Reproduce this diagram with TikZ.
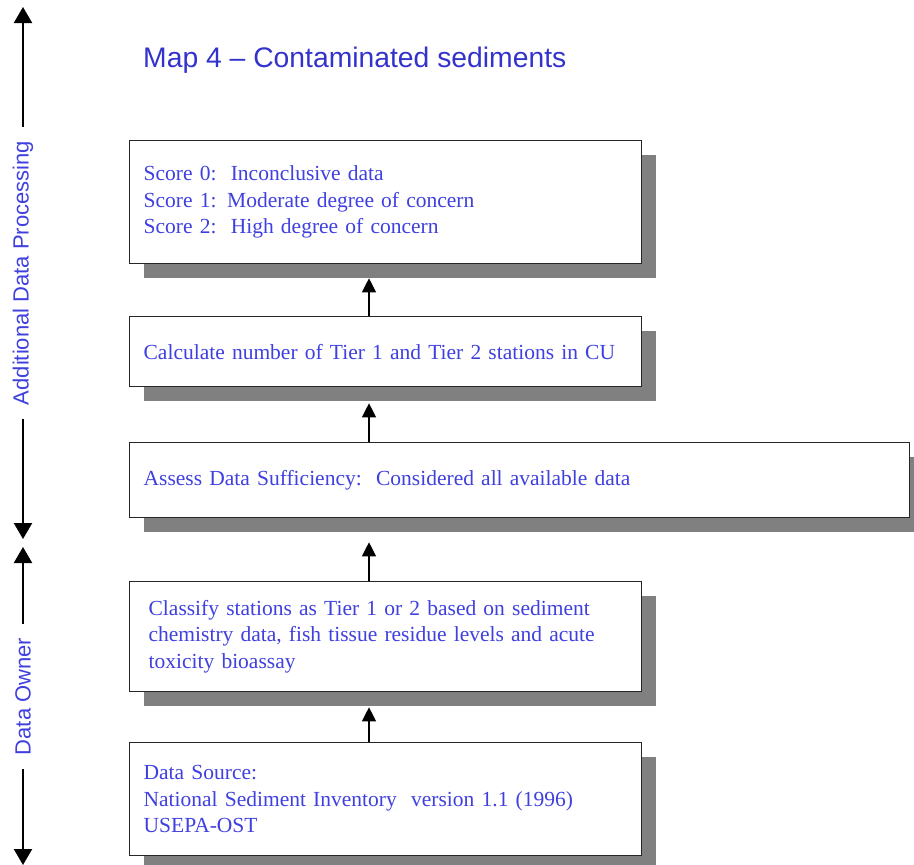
\documentclass[tikz,border=0pt]{standalone}
\usepackage{fontspec}
\setmainfont{Liberation Serif}
\setsansfont{Liberation Sans}
\usetikzlibrary{arrows.meta,shadows,positioning}
\definecolor{titleblue}{RGB}{51,51,204}
\definecolor{textblue}{RGB}{64,64,224}

\begin{document}
\begin{tikzpicture}[x=1pt, y=-1pt,
        box/.style={draw=black!85, line width=1.3pt, fill=white, anchor=north west, align=left,
                inner xsep=14pt, inner ysep=0pt, text=textblue, font=\fontsize{21.5}{26.5}\selectfont,
                general shadow={fill=black!50, shadow xshift=14pt, shadow yshift=-14pt}},
        flow/.style={-{Triangle[width=14pt,length=14pt]}, line width=1.2pt},
        side/.style={{Triangle[width=18pt,length=16pt]}-{Triangle[width=18pt,length=16pt]}, line width=2.2pt},
        sidelabel/.style={fill=white, rotate=90, text=textblue, inner xsep=14pt, font=\sffamily\fontsize{22}{26}\selectfont}]
        \useasboundingbox (0,0) rectangle (914,865);
        \clip (0,0) rectangle (914,865);
        % Title
        \node[anchor=base west, inner sep=0pt, text=titleblue, font=\sffamily\fontsize{28.3}{34}\selectfont] (title) at (143,67) {Map 4 – Contaminated sediments};
        % Boxes
        \node[box, text width=484pt, minimum height=123pt] (score) at (129,140)
                {Score 0:\ \ Inconclusive data\\ Score 1: Moderate degree of concern\\ Score 2:\ \ High degree of concern};
        \node[box, text width=484pt, minimum height=70pt] (count) at (129,316)
                {Calculate number of Tier 1 and Tier 2 stations in CU};
        \node[box, text width=752pt, minimum height=75pt] (assess) at (129,442)
                {Assess Data Sufficiency:\ \ Considered all available data};
        \node[box, inner xsep=19pt, text width=474pt, minimum height=110pt] (classify) at (129,581)
                {Classify stations as Tier 1 or 2 based on sediment\\ chemistry data, fish tissue residue levels and acute\\ toxicity bioassay};
        \node[box, text width=484pt, minimum height=113pt] (source) at (129,742)
                {Data Source:\\ National Sediment Inventory\ \ version 1.1 (1996)\\ USEPA-OST};
        % Arrows between boxes
        \coordinate (ax) at (369,0);
        \draw[flow, shorten >=14pt] (count.north -| ax) -- (score.south -| ax);
        \draw[flow, shorten >=16pt] (assess.north -| ax) -- (count.south -| ax);
        \draw[flow, shorten >=24pt] (classify.north -| ax) -- (assess.south -| ax);
        \draw[flow, shorten >=15pt] (source.north -| ax) -- (classify.south -| ax);
        % Side arrows
        \coordinate (proctop) at (23,7);
        \coordinate (procbot) at (23,539);
        \coordinate (owntop) at (23,547);
        \coordinate (ownbot) at (23,865);
        \draw[side] (proctop) -- (procbot) node[sidelabel, midway] (proc) {Additional Data Processing};
        \draw[side] (owntop) -- (ownbot) node[sidelabel, pos=0.47] (own) {Data Owner};
\end{tikzpicture}
\end{document}
